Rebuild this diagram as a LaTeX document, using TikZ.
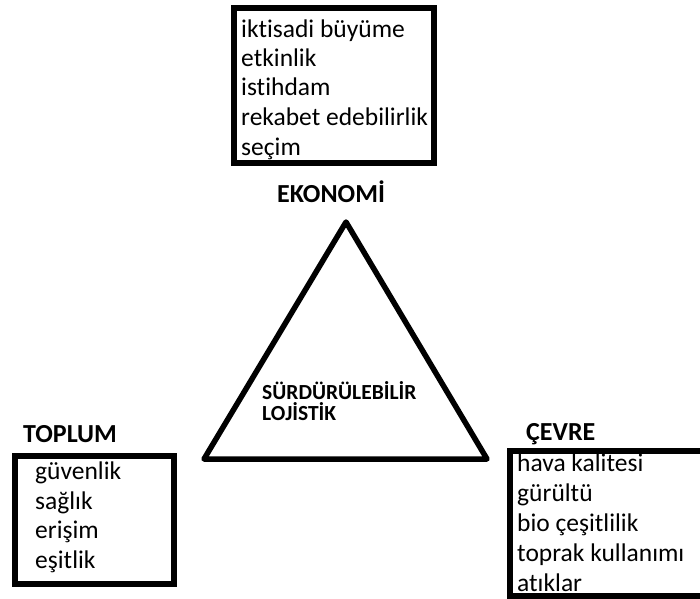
\documentclass[tikz,border=0pt]{standalone}
\usepackage{fontspec}
\setmainfont{Carlito}[RawFeature=-liga]
\begin{document}
\begin{tikzpicture}[x=1pt,y=-1pt,
  box/.style={draw,line width=6pt},
  item/.style={anchor=base west,inner sep=0pt,font=\fontsize{25.5}{30}\selectfont},
  lbl/.style={anchor=base west,inner sep=0pt,font=\bfseries\fontsize{26}{30}\selectfont},
  inner/.style={anchor=base west,inner sep=0pt,font=\bfseries\fontsize{21.5}{25}\selectfont}]
\useasboundingbox (0,0) rectangle (700,598);
\clip (0,0) rectangle (700,598);
\fill[white] (0,0) rectangle (700,598);
% boxes
\draw[box] (234,8) rectangle (434,163);
\draw[box] (15,456) rectangle (174,584);
\draw[box] (510,451) rectangle (710,596);
% triangle
\coordinate (A) at (346,222);
\coordinate (B) at (204,459);
\coordinate (C) at (487,459);
\draw[line width=5.5pt,line join=round] (A) -- (B) -- (C) -- cycle;
% labels
\node[lbl] (eko) at (277,202) {EKONOMİ};
\node[lbl] (top) at (23,442) {TOPLUM};
\node[lbl] (cev) at (526,440) {ÇEVRE};
\node[inner] (s1) at (262,399) {SÜRDÜRÜLEBİLİR};
\node[inner] (s2) at (262,420) {LOJİSTİK};
% economy items
\node[item] (e1) at (241,37) {iktisadi büyüme};
\node[item] (e2) at (241,66) {etkinlik};
\node[item] (e3) at (241,95) {istihdam};
\node[item] (e4) at (241,125) {rekabet edebilirlik};
\node[item] (e5) at (241,155) {seçim};
% society items
\node[item] (t1) at (35,479) {güvenlik};
\node[item] (t2) at (35,509) {sağlık};
\node[item] (t3) at (35,538) {erişim};
\node[item] (t4) at (35,568) {eşitlik};
% environment items
\node[item] (c1) at (517,471) {hava kalitesi};
\node[item] (c2) at (517,501) {gürültü};
\node[item] (c3) at (517,531) {bio çeşitlilik};
\node[item] (c4) at (517,561) {toprak kullanımı};
\node[item] (c5) at (517,591) {atıklar};
\end{tikzpicture}
\end{document}
